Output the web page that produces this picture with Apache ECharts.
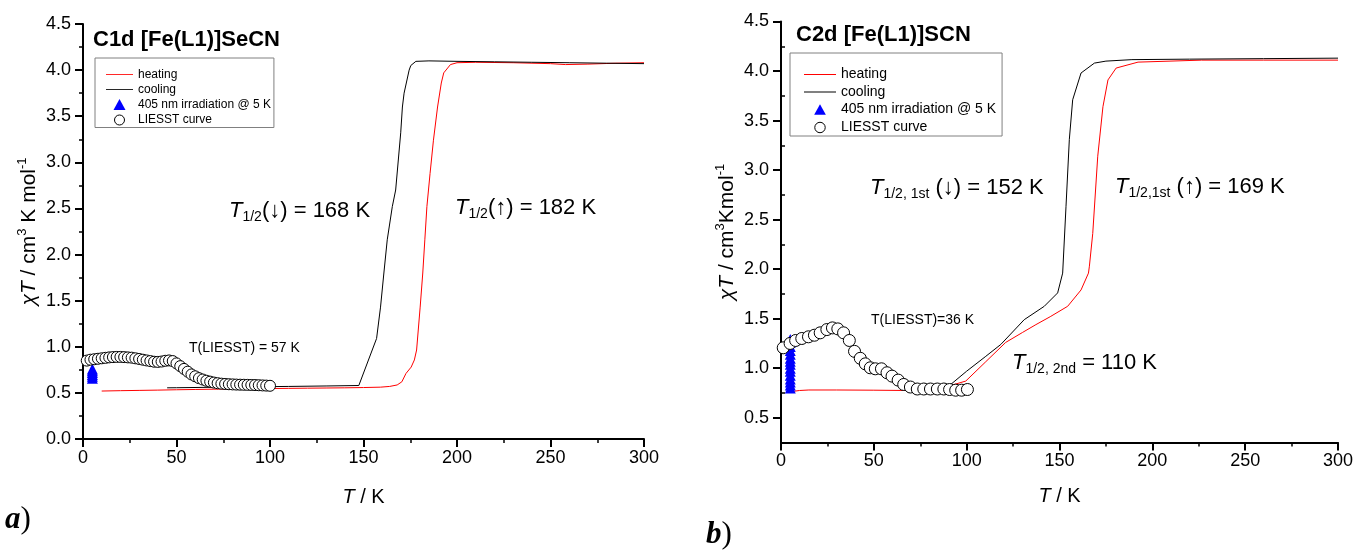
<!DOCTYPE html>
<html><head><meta charset="utf-8">
<script src="https://cdn.jsdelivr.net/npm/echarts@6/dist/echarts.min.js"></script>
<style>html,body{margin:0;padding:0;background:#fff}#c{width:1357px;height:550px}</style>
</head><body><div id="c"></div><script>
// ---------- data: panel a) C1d [Fe(L1)]SeCN ----------
const c1Heating = [[10,0.52],[20,0.524],[30,0.527],[40,0.53],[50,0.534],[60,0.537],[70,0.54],[80,0.543],[90,0.545],[100,0.547],[110,0.549],[120,0.551],[130,0.553],[140,0.555],[150,0.558],[159,0.562],[164,0.57],[168,0.586],[170.5,0.62],[172.7,0.71],[175.5,0.78],[177.2,0.857],[178.4,0.965],[180.3,1.43],[181.7,1.8],[182.8,2.16],[183.9,2.52],[185.6,2.88],[187.4,3.24],[189.6,3.6],[191.6,3.86],[192.9,3.97],[196.5,4.06],[200,4.08],[210,4.085],[230,4.08],[250,4.07],[258,4.06],[270,4.065],[285,4.075],[300,4.08]];
const c1Cooling = [[300,4.07],[280,4.075],[260,4.08],[240,4.085],[220,4.09],[200,4.095],[185,4.1],[178,4.095],[175.3,4.05],[174.4,4.0],[171.7,3.75],[170.8,3.6],[169.9,3.32],[167.2,2.7],[165.4,2.52],[162.7,2.16],[160.9,1.8],[159.1,1.43],[157,1.09],[147.5,0.58],[130,0.575],[110,0.57],[90,0.566],[70,0.561],[50,0.556],[45,0.555]];
const c1Irradiation = [[5,0.66],[5,0.68],[5,0.70],[5,0.72],[5,0.74],[5,0.76]];
const c1Liesst = [[2,0.85],[4,0.86],[6,0.865],[8,0.87],[10,0.875],[12,0.88],[14,0.885],[16,0.888],[18,0.89],[20,0.89],[22,0.888],[24,0.885],[26,0.882],[28,0.875],[30,0.868],[32,0.86],[34,0.852],[36,0.845],[38,0.838],[40,0.836],[42,0.84],[44,0.848],[46,0.852],[48,0.845],[50,0.82],[52,0.79],[54,0.76],[56,0.73],[58,0.70],[60,0.68],[62,0.66],[64,0.645],[66,0.632],[68,0.622],[70,0.612],[72,0.605],[74,0.60],[76,0.597],[78,0.594],[80,0.592],[82,0.59],[84,0.589],[86,0.588],[88,0.587],[90,0.586],[92,0.585],[94,0.583],[96,0.581],[98,0.579],[100,0.577]];
// ---------- data: panel b) C2d [Fe(L1)]SCN ----------
const c2Heating = [[4,0.76],[10,0.775],[15,0.78],[30,0.78],[50,0.778],[67,0.775],[80,0.79],[88.6,0.81],[99.5,0.87],[110,1.06],[121,1.26],[130,1.36],[137.3,1.44],[145,1.52],[154.4,1.625],[161.6,1.79],[165.6,1.96],[166.1,2.03],[167.9,2.36],[170.6,3.14],[173.4,3.64],[176.1,3.91],[180.5,4.03],[192.3,4.09],[226.5,4.11],[260,4.11],[300,4.11]];
const c2Cooling = [[300,4.13],[260,4.125],[220,4.12],[189,4.115],[175,4.1],[168.8,4.08],[161.6,3.98],[157.1,3.71],[155.3,3.31],[153.5,2.63],[151.7,1.96],[149,1.76],[141.8,1.625],[131,1.49],[118.4,1.24],[110.3,1.12],[100,0.97],[90.4,0.82],[85,0.8]];
const c2Irradiation = [[5,0.80],[5,0.83],[5,0.86],[5,0.89],[5,0.93],[5,0.97],[5,1.00],[5,1.04],[5,1.07],[5,1.10],[5,1.14],[5,1.18],[5,1.22],[5,1.26],[5,1.29]];
const c2Liesst = [[1.2,1.206],[4.9,1.25],[7.9,1.28],[11.2,1.30],[14.8,1.317],[18,1.333],[21.1,1.357],[24.7,1.39],[27.7,1.407],[30.6,1.397],[33.7,1.357],[36.8,1.28],[39.6,1.17],[42.7,1.10],[45.4,1.044],[48.1,1.004],[50.8,0.994],[54.1,0.994],[57.1,0.954],[59.8,0.92],[63.1,0.88],[66.1,0.836],[69.7,0.81],[73.4,0.79],[76.9,0.79],[80.5,0.79],[84.2,0.79],[87.7,0.79],[90.8,0.785],[94.1,0.778],[97.3,0.778],[100.4,0.785]];
// ---------- axis tick values ----------
const c2YTicks = [0.5,1.0,1.5,2.0,2.5,3.0,3.5,4.0,4.5];
const c2YMinor = [0.75,1.25,1.75,2.25,2.75,3.25,3.75,4.25];
const legendNames = ['heating','cooling','405 nm irradiation @ 5 K','LIESST curve'];

const F = "'Liberation Sans', Arial, sans-serif";
const chart = echarts.init(document.getElementById('c'), null, {renderer:'canvas'});

function tok(size, extra){ return Object.assign({fontSize:size, fontFamily:F, color:'#000', lineHeight:26}, extra||{}); }
const annRich = {
  i: tok(22,{fontStyle:'italic'}),
  n: tok(22),
  s: tok(14,{lineHeight:8, verticalAlign:'bottom'})
};
const nameRich = {
  i: tok(21,{fontStyle:'italic'}),
  n: tok(21),
  sup: tok(13,{lineHeight:14, verticalAlign:'top'})
};
const xNameRich = {
  i: tok(20,{fontStyle:'italic'}),
  n: tok(20)
};
function xAx(g){
  return {gridIndex:g, type:'value', min:0, max:300, interval:50,
    name:'{i|T}{n| / K}', nameLocation:'middle', nameGap: g===0?45:41,
    nameTextStyle:{rich:xNameRich, lineHeight:26},
    axisLine:{show:true, onZero:false, lineStyle:{color:'#000', width:2}},
    axisTick:{show:true, inside:false, length:8, lineStyle:{color:'#000', width:2}},
    minorTick:{show:true, splitNumber:2, length:4, lineStyle:{color:'#000', width:1.5}},
    splitLine:{show:false}, minorSplitLine:{show:false},
    axisLabel:{fontSize:18, color:'#000', fontFamily:F, margin:10}};
}
const yBase = {
  type:'value', nameLocation:'middle', nameTextStyle:{rich:nameRich, lineHeight:26},
  axisLine:{show:true, onZero:false, lineStyle:{color:'#000', width:2}},
  axisTick:{show:true, inside:false, length:8, lineStyle:{color:'#000', width:2}},
  splitLine:{show:false}, minorSplitLine:{show:false},
  axisLabel:{fontSize:18, color:'#000', fontFamily:F, margin:12, formatter:v=>Number(v).toFixed(1)}
};
function lineS(name, x, y, data, color){
  return {name, type:'line', xAxisIndex:x, yAxisIndex:y, data, showSymbol:false, symbol:'none',
    lineStyle:{color, width:1}, itemStyle:{color}, z:2, animation:false};
}
function triS(x, y, data, size){
  return {name:legendNames[2], type:'scatter', xAxisIndex:x, yAxisIndex:y, data, symbol:'triangle', symbolSize:size,
    itemStyle:{color:'#0000ff', opacity:1}, z:3, animation:false};
}
function cirS(x, y, data, size){
  return {name:legendNames[3], type:'scatter', xAxisIndex:x, yAxisIndex:y, data, symbol:'circle', symbolSize:size,
    itemStyle:{color:'#ffffff', borderColor:'#000', borderWidth:1, opacity:1}, z:4, animation:false};
}
const lineIcon = 'path://M0,0 H32 V1 H0 Z';
function legendData(triIcon, cirIcon){
  return [
    {name:legendNames[0], icon:lineIcon, itemStyle:{color:'#ff0000', borderWidth:0}},
    {name:legendNames[1], icon:lineIcon, itemStyle:{color:'#000', borderWidth:0}},
    {name:legendNames[2], icon:triIcon, itemStyle:{color:'#0000ff', borderWidth:0}},
    {name:legendNames[3], icon:cirIcon, itemStyle:{color:'#fff', borderColor:'#000', borderWidth:1}}
  ];
}
function ann(x, y, text){
  return {type:'text', x, y, silent:true, style:{text, rich:annRich, fontSize:22, fontFamily:F, fill:'#000', verticalAlign:'middle', align:'left'}};
}
function plain(x, y, text, size, weight){
  return {type:'text', x, y, silent:true, style:{text, fontSize:size, fontWeight:weight||'normal', fontFamily:F, fill:'#000', verticalAlign:'middle', align:'left'}};
}
const panelRich = {
  a:{fontFamily:"'Liberation Serif', 'Times New Roman', serif", fontSize:31, fontWeight:'bold', fontStyle:'italic', color:'#000'},
  p:{fontFamily:"'Liberation Serif', 'Times New Roman', serif", fontSize:31, color:'#000'}
};

const option = {
  animation:false,
  backgroundColor:'#fff',
  grid:[
    {left:83, top:24, width:561, height:415},
    {left:781, top:21.5, width:557, height:421}
  ],
  xAxis:[xAx(0), xAx(1)],
  yAxis:[
    Object.assign({}, yBase, {gridIndex:0, min:0, max:4.5, interval:0.5,
      name:'{i|χT}{n| / cm}{sup|3}{n| K mol}{sup|-1}', nameGap:32,
      minorTick:{show:true, splitNumber:2, length:4, lineStyle:{color:'#000', width:1.5}}}),
    Object.assign({}, yBase, {gridIndex:1, min:0.25, max:4.5,
      name:'{i|χT}{n| / cm}{sup|3}{n|Kmol}{sup|-1}', nameGap:36,
      axisTick:{show:true, inside:false, length:8, customValues:c2YTicks, lineStyle:{color:'#000', width:2}},
      axisLabel:Object.assign({}, yBase.axisLabel, {customValues:c2YTicks}),
      minorTick:{show:false}}),
    {gridIndex:1, type:'value', min:0.25, max:4.5,
      axisLine:{show:false}, axisLabel:{show:false}, splitLine:{show:false},
      axisTick:{show:true, inside:false, length:4, customValues:c2YMinor, lineStyle:{color:'#000', width:1.5}}}
  ],
  legend:[
    {orient:'vertical', left:95, top:58, padding:[10.5,3,1,11], itemGap:3, itemWidth:27, itemHeight:12,
     borderColor:'#808080', borderWidth:1, selectedMode:false, symbolKeepAspect:true,
     textStyle:{fontSize:12, fontFamily:F, color:'#000', lineHeight:12},
     data:legendData('path://M0,-0.5 M0,9.5 M5,0 L10,9 L0,9 Z',
                     'path://M0,-1 M0,11 M10,5 A5,5 0 1,1 0,5 A5,5 0 1,1 10,5 Z')},
    {orient:'vertical', left:790, top:53, padding:[14.5,6,1,14], itemGap:3.5, itemWidth:32, itemHeight:14,
     borderColor:'#808080', borderWidth:1, selectedMode:false, symbolKeepAspect:true,
     textStyle:{fontSize:14, fontFamily:F, color:'#000', lineHeight:14},
     data:legendData('path://M0,-1.5 M0,10.5 M5,0 L10,9 L0,9 Z',
                     'path://M0,-1.7 M0,11.7 M10,5 A5,5 0 1,1 0,5 A5,5 0 1,1 10,5 Z')}
  ],
  series:[
    lineS(legendNames[0], 0, 0, c1Heating, '#ff0000'),
    lineS(legendNames[1], 0, 0, c1Cooling, '#000000'),
    triS(0, 0, c1Irradiation, 11),
    cirS(0, 0, c1Liesst, 11),
    lineS(legendNames[0], 1, 1, c2Heating, '#ff0000'),
    lineS(legendNames[1], 1, 1, c2Cooling, '#000000'),
    triS(1, 1, c2Irradiation, 11),
    cirS(1, 1, c2Liesst, 12)
  ],
  graphic:[
    plain(93, 40, 'C1d [Fe(L1)]SeCN', 22, 'bold'),
    plain(796, 35, 'C2d [Fe(L1)]SCN', 22, 'bold'),
    ann(229, 211, '{i|T}{s|1/2}{n|(↓) = 168 K}'),
    ann(455, 208, '{i|T}{s|1/2}{n|(↑) = 182 K}'),
    plain(189, 348, 'T(LIESST) = 57 K', 14),
    ann(870, 188, '{i|T}{s|1/2, 1st}{n| (↓) = 152 K}'),
    ann(1115, 187, '{i|T}{s|1/2,1st}{n| (↑) = 169 K}'),
    ann(1012, 363, '{i|T}{s|1/2, 2nd}{n| = 110 K}'),
    plain(871, 320, 'T(LIESST)=36 K', 14),
    {type:'text', x:5, y:520, silent:true, style:{text:'{a|a}{p|)}', rich:panelRich, verticalAlign:'middle'}},
    {type:'text', x:706, y:535, silent:true, style:{text:'{a|b}{p|)}', rich:panelRich, verticalAlign:'middle'}}
  ]
};
chart.setOption(option);
</script></body></html>
